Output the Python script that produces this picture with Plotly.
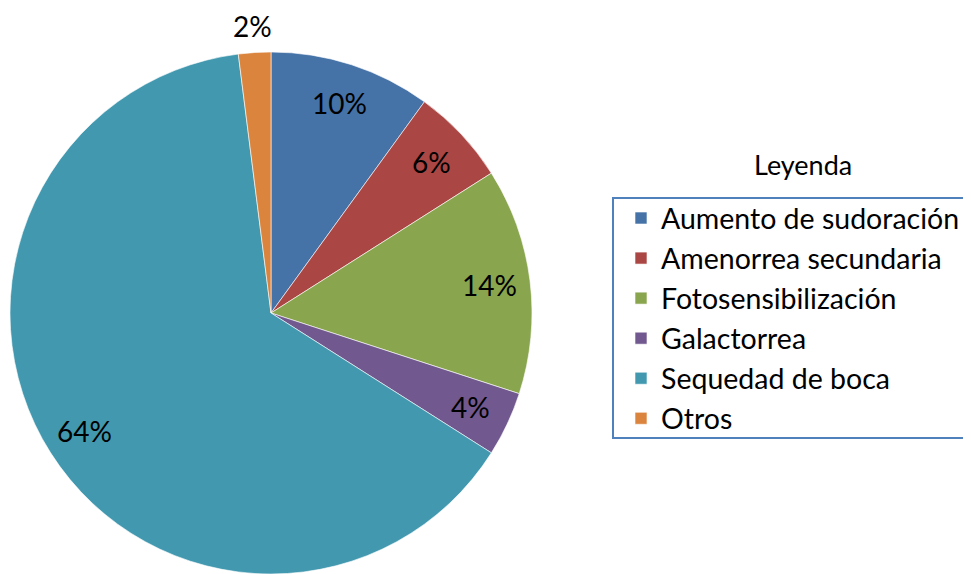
import math
import plotly.graph_objects as go

categories = ["Aumento de sudoración", "Amenorrea secundaria", "Fotosensibilización",
              "Galactorrea", "Sequedad de boca", "Otros"]
values = [10, 6, 14, 4, 64, 2]
colors = ["#4572A7", "#AA4643", "#89A54E", "#71588F", "#4198AF", "#DB843D"]
label_inside = [True, True, True, True, True, False]

W, H = 971, 574
FONT = "Lato, Carlito, Calibri, sans-serif"

# pie geometry (figure pixels; page adds an 8px body margin)
CX, CY, R = 263, 305, 261

fig = go.Figure(go.Pie(
    labels=categories,
    values=values,
    sort=False,
    direction="clockwise",
    rotation=0,
    marker=dict(colors=colors, line=dict(color="#FFFFFF", width=0.6)),
    textinfo="none",
    domain=dict(x=[(CX - R) / W, (CX + R) / W], y=[(H - CY - R) / H, (H - CY + R) / H]),
    hoverinfo="label+percent",
))

# percentage labels placed along each slice bisector
total = sum(values)
annotations = []
cum = 0
for v, inside in zip(values, label_inside):
    mid = (cum + v / 2) / total * 2 * math.pi
    cum += v
    rf = 0.845 if inside else 1.10
    dx = math.sin(mid) * R * rf
    dy = math.cos(mid) * R * rf
    annotations.append(dict(
        text=f"{round(v / total * 100)}%",
        x=(CX + dx) / W, y=(H - CY + dy) / H, xref="paper", yref="paper",
        showarrow=False, xanchor="center", yanchor="middle",
        font=dict(family=FONT, size=28, color="#000000"),
    ))

annotations.append(dict(
    text="Leyenda", x=795 / W, y=(H - 157) / H, xref="paper", yref="paper",
    showarrow=False, font=dict(family=FONT, size=27, color="#000000"),
    xanchor="center", yanchor="middle",
))

# legend frame
LX0, LY0, LX1, LY1 = 605, 190, 985, 430

fig.update_layout(
    width=W, height=H,
    margin=dict(l=0, r=0, t=0, b=0, autoexpand=False),
    paper_bgcolor="white",
    plot_bgcolor="white",
    font=dict(family=FONT, color="#000000"),
    showlegend=True,
    legend=dict(
        x=613 / W, y=(H - 185) / H, xanchor="left", yanchor="top",
        borderwidth=0,
        font=dict(family=FONT, size=28.5, color="#000000"),
        tracegroupgap=0,
        bgcolor="rgba(0,0,0,0)",
    ),
    shapes=[dict(
        type="rect", xref="paper", yref="paper",
        x0=LX0 / W, x1=LX1 / W, y0=(H - LY1) / H, y1=(H - LY0) / H,
        line=dict(color="#4F81BD", width=2), fillcolor="rgba(0,0,0,0)",
    )],
    annotations=annotations,
)

fig.write_html("out.html")
